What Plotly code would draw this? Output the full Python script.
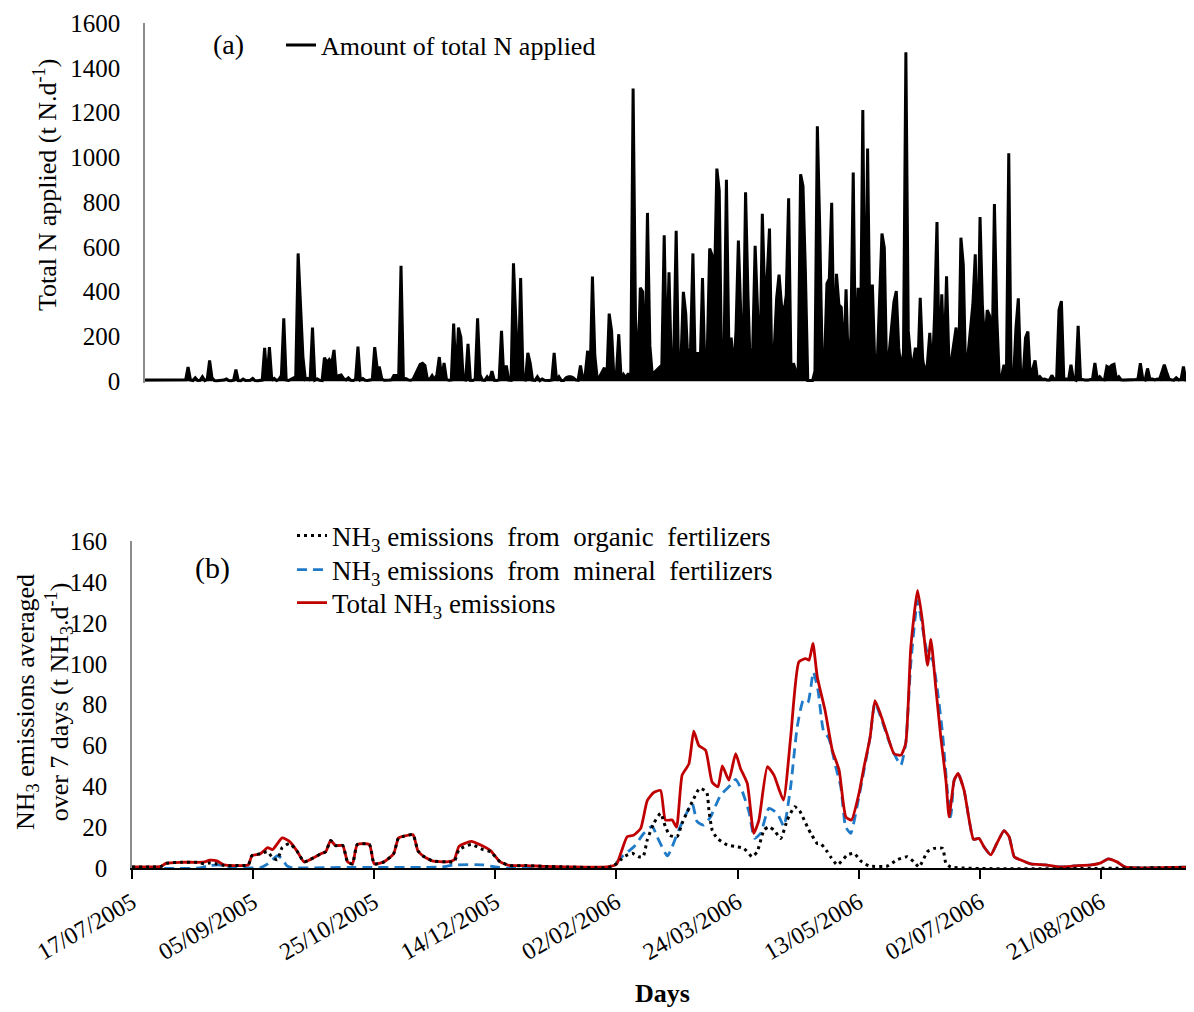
"""Total N applied (a) and 7-day averaged NH3 emissions (b), July 2005 - Sept 2006."""

import pandas as pd
import plotly.graph_objects as go

START = pd.Timestamp("2005-07-17")
N_DAYS = 438

# (a) daily total N applied (t N/d), day 0 = 17/07/2005; None = no data (line bridges the gap)
total_n = [
    5, 5, 5, 5, 5, 5, 5, 5, 5, 5,
    5, 5, 5, 5, 5, 5, 6, 6, 63, 5,
    3, 15, 3, 4, 20, 3, 8, 93, 15, 3,
    2, 2, 3, 5, 10, 3, 2, 4, 52, 3,
    2, 10, 3, 2, 4, 12, 3, 2, 3, 5,
    149, 3, 152, 4, 12, 3, 8, 25, 281, 5,
    3, 8, 15, 20, 571, 328, 110, 8, 12, 4,
    240, 5, 10, 4, 3, 105, 85, 97, 77, 140,
    8, 25, 28, 12, 6, 15, 4, 3, 8, 155,
    6, 12, 4, 3, 6, 8, 152, 60, 60, 10,
    4, 3, 5, 6, 25, 25, 8, 516, 10, 12,
    6, 4, 8, 30, 55, 75, 80, 70, 10, 8,
    25, 6, 30, 108, 10, 81, 8, 4, 6, 258,
    10, 240, 196, 8, 6, 167, 4, 3, 10, 281,
    30, 5, 4, 20, 6, 45, 4, 3, 6, 225,
    8, 70, 5, 4, 527, 246, 10, 461, 8, 6,
    127, 80, 5, 4, 20, 3, 10, 4, 3, 3,
    5, 127, 4, 20, 3, 3, 15, 20, 20, 15,
    6, 4, 70, 10, 30, 136, 8, 468, 115, 10,
    20, 40, 60, 5, 302, 225, 10, 30, 210, 8,
    30, 15, 35, 8, 1308, 280, 30, 417, 400, 40,
    752, 160, 30, None, None, None, 72, 652, 60, 487,
    50, 120, 672, 50, 90, 399, 302, 60, 150, 571,
    40, 130, 60, 461, 50, 130, 593, 564, 424, 950,
    851, 40, 120, 900, 160, 195, 40, 225, 629, 300,
    90, 844, 387, 40, 150, 605, 321, 30, 748, 380,
    461, 682, 40, 150, 372, 476, 342, 300, 384, 817,
    40, 80, 45, 45, 925, 873, 490, 3, 3, 3,
    45, 1139, 683, 100, 80, 436, 458, 797, 120, 480,
    342, 330, 80, 411, 40, 200, 932, 30, 417, 120,
    1212, 80, 1040, 200, 432, 80, 70, 384, 660, 596,
    10, None, None, 354, 403, 150, 50, 130, 1470, 226,
    100, 80, 150, 60, 373, 100, 30, 80, 216, 20,
    297, 711, 40, 388, 80, 469, 80, 93, 159, 240,
    20, 641, 520, 10, None, None, 344, 567, 90, 734,
    333, 159, 318, 292, 60, 792, 289, 20, 20, 73,
    10, 1018, 10, 10, 237, 370, 25, 20, 194, 222,
    15, 51, 93, 10, 20, 8, 10, 5, 5, 26,
    8, 10, 318, 358, 10, 10, 8, 74, 10, 5,
    247, 10, 6, 5, 5, 8, 10, 81, 10, 20,
    8, 6, 66, 60, 71, 75, 10, 20, 6, 5,
    5, 5, 6, 5, 8, 10, 80, 10, 6, 57,
    10, 10, 6, 10, 8, 40, 74, 40, 10, 6,
    5, 15, 6, 8, 66, 5, 5, 5,
]

# (b) NH3 emissions averaged over 7 days (t NH3/d), x = days since 17/07/2005
organic_days = [
    0, 8, 12, 14, 20, 27, 30, 32, 35, 38, 44, 48, 49.5, 53, 56, 58, 60, 62, 65, 68,
    71, 73, 78, 80, 82, 84, 87, 89, 91, 93, 98, 100, 104, 108, 110, 112, 116, 118, 120, 124,
    130, 133, 135, 140, 145, 148, 152, 156, 163, 170, 180, 198, 201.7, 203.7, 206.5, 209.2,
    211, 212.7, 215.4, 218.2, 220.2, 222, 225, 227.1, 229.2, 231.3, 234.3, 237.2, 238.2,
    239.5, 241.6, 245.7, 249.9, 252.6, 256, 258.1, 260.9, 262.9, 265, 267.8, 270.5, 273.6,
    275.6, 278.8, 280.2, 282.9, 284.3, 287, 288.4, 291.2, 295.3, 298.1, 300.8, 304.3, 311.9,
    315.8, 320, 322.8, 324.9, 328.4, 331.1, 334.6, 336, 338, 437,
]
organic_vals = [
    0.5, 0.5, 0.8, 2.3, 2.8, 2.8, 2, 2.5, 2, 1.2, 1.2, 1.5, 6, 7, 8, 5, 4, 10, 12, 8.5,
    3, 3.8, 7, 8, 13.5, 11, 11, 3, 2, 11.5, 11.5, 2, 3, 7, 14.7, 15.5, 16.3, 8.5, 6, 3.5,
    3, 3, 9, 11.5, 9, 8, 3, 1.2, 1.2, 0.8, 0.5, 0.5, 4, 5.9, 7.2, 5.5,
    5.5, 13.7, 21.9, 26.8, 20.2, 16, 15.3, 21.9, 27.5, 32.5, 39, 37.3, 28,
    18.6, 14.5, 11.3, 10.4, 9.6, 5.5, 8, 18.6, 20.2, 18.6, 14.5, 23.5, 30,
    28, 20.2, 17, 12, 12, 8, 5.5, 1.5, 6.4, 7.2, 3.5, 1, 1,
    4, 5.5, 3, 0.5, 8, 9.6, 9.6, 2.3, 0.5, 0.3,
]

mineral_days = [
    0, 28, 31, 36, 40, 53, 56, 58, 60, 62, 64, 66, 90, 128, 133, 145, 150, 156, 196,
    199.6, 203, 207.2, 211.3, 214.7, 216.8, 221, 223, 225.7, 229.2, 231.3, 233.3, 236.1,
    238.8, 243, 247.1, 249.2, 252, 254.7, 257, 259.5, 262.9, 266.4, 269.1, 271.9, 274.6,
    277.1, 279, 281.3, 283.2, 285.4, 287.7, 290.5, 292.6, 294.6, 296.7, 300.1, 302.2, 304.7,
    306.7, 309.1, 311.9, 314.6, 317.4, 319.4, 321.5, 324.3, 326.3, 328.4, 330.5, 332.5,
    334.6, 336.7, 338, 339.4, 341, 343.5, 345.6, 347.4, 349.7, 351.7, 354.5, 357, 360,
    362.1, 364.2, 366.7, 371, 377, 383, 389, 396, 400, 403, 406.6, 410, 437,
]
mineral_vals = [
    0, 0, 1, 1.5, 0.3, 0.2, 2, 4, 6, 4.5, 1, 0.2, 0.3, 0.5, 1.5, 1.5, 0.5, 0, 0,
    2.3, 6.4, 10.4, 17, 20.5, 15.3, 5.9, 10.4, 18.6, 27.5, 31.6, 22.7, 21,
    25, 35.7, 40.6, 43.4, 37.3, 27.5, 14.5, 17, 29.2, 26.8, 20.5, 39.8, 69,
    82, 81, 96, 87, 67.5, 63.4, 49.6, 39.8, 20.2, 17, 34.9, 48, 64,
    81, 74, 64, 56, 50.4, 61, 100, 131, 118, 105, 101.8, 87,
    66, 36.5, 25, 43, 46.3, 38, 23.5, 14, 14.5, 10.4, 6.4, 12, 18.3,
    15.3, 5.5, 4, 2, 1.5, 0.5, 1, 1.5, 2.5, 4.5, 3, 0.5, 0.5,
]

total_days = [
    0, 8, 12, 14, 20, 27, 30, 32, 35, 38, 44, 48, 49.5, 53, 56, 58, 62, 65, 68, 71,
    73, 78, 80, 82, 84, 87, 89, 91, 93, 98, 100, 104, 108, 110, 112, 116, 118, 120, 124, 130,
    133, 135, 140, 145, 148, 152, 156, 163, 170, 180, 196, 200, 202, 204.4, 207, 210,
    212.7, 215.4, 218.2, 220.2, 223, 224.8, 227.1, 229.9, 231.9, 234, 236.8, 239.5, 241.9,
    243.7, 246.4, 249.2, 251.2, 254, 256.7, 258.8, 262.3, 265, 268.9, 271.9, 275.3, 278.1,
    279.5, 281.1, 282.9, 286.1, 289.1, 291.9, 294.7, 297, 300.1, 302.2, 304.7, 306.7, 309.1,
    311.6, 314.6, 317.4, 319.4, 321.5, 324.3, 326.3, 328.4, 329.8, 331.8, 333.9, 336, 337.3,
    339.4, 341, 343.5, 345.6, 347.4, 349.7, 351.7, 354.5, 357, 360, 362.1, 364.2, 366.7,
    371, 377, 383, 389, 396, 400, 403, 406.6, 410, 437,
]
total_vals = [
    0.5, 0.5, 0.8, 2.3, 2.8, 2.8, 3, 3.8, 3.5, 1.5, 1.2, 1.5, 6, 7, 10, 9, 14.7, 13, 8.5, 3,
    3.8, 7, 8, 13.5, 11, 11, 3, 2, 11.5, 11.5, 2, 3, 7, 14.7, 15.5, 16.3, 8.5, 6, 3.5, 3,
    4, 10.6, 13, 10.6, 8.5, 3, 1.2, 1.2, 0.8, 0.5, 0.5, 1.8, 8, 15.3, 16, 19.4,
    33, 37, 38, 23.5, 23.5, 20, 45.5, 51, 67, 60, 57.7, 42, 39.8,
    50, 43, 56, 48.8, 41.4, 17, 23.5, 49.6, 45.5, 33.3, 64, 101, 102.6,
    101.8, 110, 93.6, 77.3, 57.7, 48, 25, 23.5, 36.5, 49.6, 64, 82, 75,
    66, 56, 55.3, 61, 108, 136, 121, 99.3, 112, 88.7, 64, 43, 25,
    43, 46.3, 38, 23.5, 14, 14.5, 10.4, 6.4, 12, 18.3, 15.3, 5.5, 4,
    2, 1.5, 0.5, 1, 1.5, 2.5, 4.5, 3, 0.5, 0.5,
]

# page body has an 8px margin, so the figure is a bit smaller and positions are shifted
OFF = 8
W, H = 1194 - OFF, 1012 - OFF
FONT = "Liberation Serif, Times New Roman, serif"


def to_dates(days):
    return START + pd.to_timedelta(days, unit="D")


def px(x):
    return (x - OFF) / W


def py(y):
    return 1 - (y - OFF) / H


x_end = START + pd.Timedelta(days=N_DAYS)
n_dates = to_dates(list(range(len(total_n))))

fig = go.Figure()

# --- (a) total N applied ---
# the daily spikes are so dense that the original reads as solid black underneath
fig.add_trace(go.Scatter(
    x=n_dates, y=total_n, mode="none", fill="tozeroy",
    fillcolor="#000000", connectgaps=False, showlegend=False, hoverinfo="skip",
    xaxis="x", yaxis="y",
))
fig.add_trace(go.Scatter(
    x=n_dates, y=total_n,
    mode="lines", line={"color": "#000000", "width": 3},
    connectgaps=True, name="Amount of total N applied",
    xaxis="x", yaxis="y", legend="legend",
))

# --- (b) emissions ---
fig.add_trace(go.Scatter(
    x=to_dates(mineral_days), y=mineral_vals, mode="lines",
    line={"color": "#1f7bc8", "width": 2.8, "dash": "10px,6px",
          "shape": "spline", "smoothing": 0.5},
    name="NH<sub>3</sub> emissions\u00a0 from\u00a0 mineral\u00a0 fertilizers",
    xaxis="x2", yaxis="y2", legend="legend3",
))
fig.add_trace(go.Scatter(
    x=to_dates(total_days), y=total_vals, mode="lines",
    line={"color": "#c00000", "width": 2.8, "shape": "spline", "smoothing": 0.5},
    name="Total NH<sub>3</sub> emissions",
    xaxis="x2", yaxis="y2", legend="legend4",
))
fig.add_trace(go.Scatter(
    x=to_dates(organic_days), y=organic_vals, mode="lines",
    line={"color": "#000000", "width": 3, "dash": "3px,4px",
          "shape": "spline", "smoothing": 0.5},
    name="NH<sub>3</sub> emissions\u00a0 from\u00a0 organic\u00a0 fertilizers",
    xaxis="x2", yaxis="y2", legend="legend2",
))

legend_style = dict(
    font={"family": FONT, "size": 26, "color": "#000000"},
    bgcolor="rgba(0,0,0,0)", xanchor="left", yanchor="middle",
    borderwidth=0, itemclick=False,
)
big = {"family": FONT, "size": 27, "color": "#000000"}

fig.update_layout(
    width=W, height=H,
    paper_bgcolor="#ffffff", plot_bgcolor="#ffffff",
    margin={"l": 0, "r": 0, "t": 0, "b": 0, "autoexpand": False},
    font={"family": FONT, "size": 25, "color": "#000000"},
    showlegend=True,
    legend={**legend_style, "x": px(281), "y": py(45)},
    legend2={**legend_style, "x": px(292), "y": py(536), "font": big},
    legend3={**legend_style, "x": px(292), "y": py(570), "font": big},
    legend4={**legend_style, "x": px(292), "y": py(603), "font": big},
    xaxis={
        "domain": [px(145), px(1193)], "type": "date",
        "range": [START, x_end], "visible": False,
    },
    yaxis={
        "domain": [py(383), py(23)], "range": [-8, 1600.5], "dtick": 200, "tick0": 0,
        "showline": True, "linecolor": "#8c8c8c", "linewidth": 1.5,
        "showgrid": False, "zeroline": False, "ticks": "",
        "ticklabelstandoff": 18, "ticklabeloverflow": "allow",
        "tickfont": {"family": FONT, "size": 25},
    },
    xaxis2={
        "domain": [px(132), px(1193)], "type": "date", "anchor": "y2",
        "range": [START, x_end], "tick0": START, "dtick": 50 * 86400000,
        "tickformat": "%d/%m/%Y", "tickangle": -30,
        "tickfont": {"family": FONT, "size": 24},
        "ticks": "outside", "ticklen": 9, "tickwidth": 2, "tickcolor": "#000000",
        "showline": True, "linecolor": "#000000", "linewidth": 2,
        "showgrid": False, "zeroline": False,
        "title": {"text": "<b>Days</b>", "font": {"family": FONT, "size": 26}, "standoff": 20},
    },
    yaxis2={
        "domain": [py(868), py(541)], "range": [0, 160.2], "dtick": 20, "anchor": "x2",
        "showline": True, "linecolor": "#8c8c8c", "linewidth": 1.5,
        "showgrid": False, "zeroline": False, "ticks": "",
        "ticklabelstandoff": 18, "tickfont": {"family": FONT, "size": 25},
    },
    annotations=[
        dict(text="(a)", x=px(228), y=py(45), xref="paper", yref="paper",
             xanchor="center", yanchor="middle",
             showarrow=False, font={"family": FONT, "size": 28}),
        dict(text="(b)", x=px(212), y=py(568), xref="paper", yref="paper",
             xanchor="center", yanchor="middle",
             showarrow=False, font={"family": FONT, "size": 30}),
        dict(text="Total N applied (t N.d<sup>-1</sup>)", textangle=-90,
             x=px(45), y=py(185), xref="paper", yref="paper",
             xanchor="center", yanchor="middle",
             showarrow=False, font={"family": FONT, "size": 26}),
        dict(text="NH<sub>3</sub> emissions averaged<br>over 7 days (t NH<sub>3</sub>.d<sup>-1</sup>)",
             textangle=-90, x=px(44), y=py(702), xref="paper", yref="paper",
             xanchor="center", yanchor="middle",
             showarrow=False, font={"family": FONT, "size": 26}),
    ],
)

fig.write_html("out.html")
